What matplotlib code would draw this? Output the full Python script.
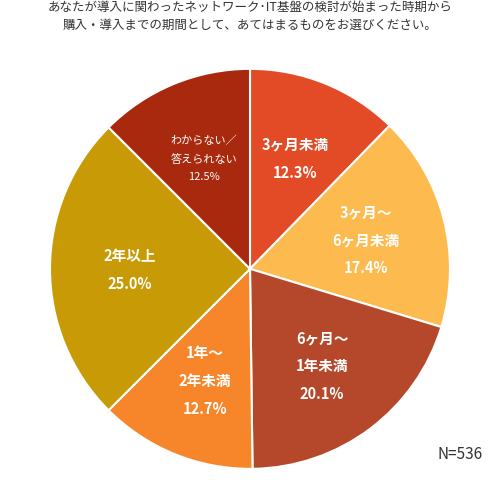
import matplotlib
matplotlib.use("Agg")
import matplotlib.pyplot as plt
import numpy as np

plt.rcParams['font.family'] = ['Noto Sans CJK JP', 'DejaVu Sans']

labels = ["3ヶ月未満", "3ヶ月～\n6ヶ月未満", "6ヶ月～\n1年未満", "1年～\n2年未満", "2年以上", "わからない／\n答えられない"]
values = [12.3, 17.4, 20.1, 12.7, 25.0, 12.5]
colors = ["#E34B26", "#FDBA4F", "#B5482A", "#F7862A", "#C89A05", "#A8290D"]
title = "あなたが導入に関わったネットワーク･IT基盤の検討が始まった時期から\n購入・導入までの期間として、あてはまるものをお選びください。"

fig = plt.figure(figsize=(5, 4.81), dpi=100)
ax = fig.add_axes([0.1, 0.023, 0.8, 0.832])
wedges, _ = ax.pie(values, colors=colors, startangle=90, counterclock=False,
                   wedgeprops=dict(edgecolor="white", linewidth=1.5))
ax.set_xlim(-1, 1); ax.set_ylim(-1, 1)
ax.set_aspect('equal')

for w, lab, v in zip(wedges, labels, values):
    ang = np.deg2rad((w.theta1 + w.theta2) / 2)
    r = 0.6
    x, y = r * np.cos(ang), r * np.sin(ang)
    small = lab.startswith("わから")
    ax.text(x, y, f"{lab}\n{v:.1f}%", ha="center", va="center", color="white",
            fontsize=8 if small else 10.5, fontweight="normal" if small else "bold",
            linespacing=1.9)

fig.text(0.5, 0.965, title, ha="center", va="center", fontsize=9, color="#333333", linespacing=1.5)
fig.text(0.965, 0.055, "N=536", ha="right", va="center", fontsize=11, color="#333333")
fig.savefig("out.png", dpi=100)
